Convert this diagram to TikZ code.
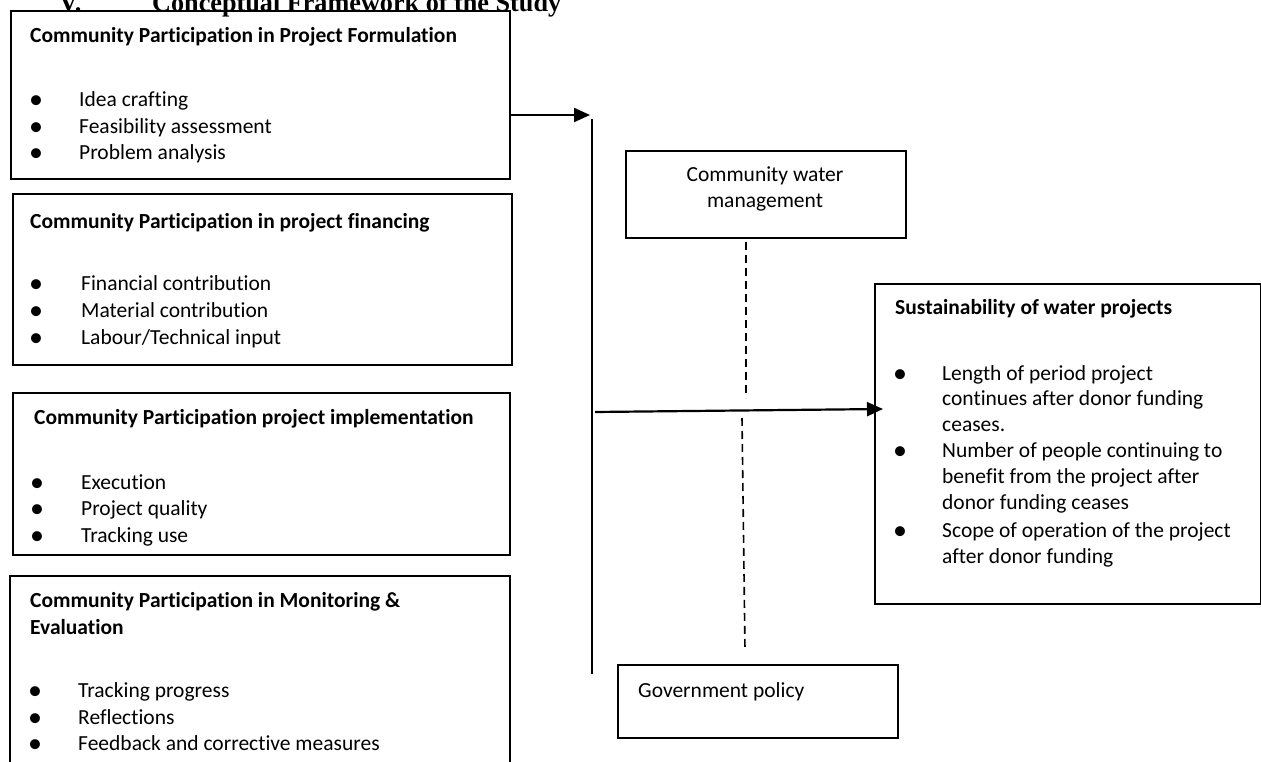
\documentclass[tikz,border=0pt]{standalone}
\usepackage{fontspec}
\setmainfont{Carlito}[Ligatures=NoCommon]
\newfontfamily\headfont{Liberation Serif}
\usetikzlibrary{arrows.meta}
\tikzset{
  box/.style={draw, line width=2pt, inner sep=0pt, anchor=north west},
  ttl/.style={anchor=base west, inner sep=0pt, font=\bfseries\fontsize{21.5}{26}\selectfont},
  itm/.style={anchor=base west, inner sep=0pt, font=\fontsize{21.5}{26}\selectfont},
  ctr/.style={anchor=base, inner sep=0pt, font=\fontsize{21.5}{26}\selectfont},
  bul/.style={anchor=base, inner sep=0pt, yshift=-2pt, font=\fontsize{28}{28}\selectfont},
  hd/.style={anchor=base west, inner sep=0pt, font=\headfont\bfseries\fontsize{26.2}{30}\selectfont},
  conn/.style={line width=2pt},
  arr/.style={line width=2.2pt, -{Triangle[length=16pt,width=14pt]}},
  dsh/.style={line width=1.6pt, dash pattern=on 8pt off 5pt},
}
\begin{document}
\begin{tikzpicture}[x=1pt,y=-1pt]
\useasboundingbox (0,0) rectangle (1261,762);
\clip (0,0) rectangle (1261,762);

% heading (cut off at the top)
\node[hd] (hv) at (59,12) {V.};
\node[hd] (hc) at (152,12) {Conceptual Framework of the Study};

% left boxes
\node[box, minimum width=499pt, minimum height=168pt] (b1) at (10,10) {};
\node[ttl] (t1) at (30,43) {Community Participation in Project Formulation};
\node[bul] (b1d1) at (36,107) {•};
\node[itm] (b1i1) at (79,107) {Idea crafting};
\node[bul] (b1d2) at (36,134) {•};
\node[itm] (b1i2) at (79,134) {Feasibility assessment};
\node[bul] (b1d3) at (36,160) {•};
\node[itm] (b1i3) at (79,160) {Problem analysis};

\node[box, minimum width=499pt, minimum height=171pt] (b2) at (12,193) {};
\node[ttl] (t2) at (30,229) {Community Participation in project financing};
\node[bul] (b2d1) at (36,290) {•};
\node[itm] (b2i1) at (81,290) {Financial contribution};
\node[bul] (b2d2) at (36,317) {•};
\node[itm] (b2i2) at (81,317) {Material contribution};
\node[bul] (b2d3) at (36,344) {•};
\node[itm] (b2i3) at (81,344) {Labour/Technical input};

\node[box, minimum width=497pt, minimum height=162pt] (b3) at (12,392) {};
\node[ttl] (t3) at (34,424) {Community Participation project implementation};
\node[bul] (b3d1) at (37,489) {•};
\node[itm] (b3i1) at (81,489) {Execution};
\node[bul] (b3d2) at (37,515) {•};
\node[itm] (b3i2) at (81,515) {Project quality};
\node[bul] (b3d3) at (37,542) {•};
\node[itm] (b3i3) at (81,542) {Tracking use};

\node[box, minimum width=500pt, minimum height=200pt] (b4) at (9,575) {};
\node[ttl] (t4a) at (30,607) {Community Participation in Monitoring \&};
\node[ttl] (t4b) at (30,634) {Evaluation};
\node[bul] (b4d1) at (35,697) {•};
\node[itm] (b4i1) at (78,697) {Tracking progress};
\node[bul] (b4d2) at (35,724) {•};
\node[itm] (b4i2) at (78,724) {Reflections};
\node[bul] (b4d3) at (35,750) {•};
\node[itm] (b4i3) at (78,750) {Feedback and corrective measures};

% middle boxes
\node[box, minimum width=280pt, minimum height=87pt] (cw) at (625,150) {};
\node[ctr] (cw1) at (765,182) {Community water};
\node[ctr] (cw2) at (765,208) {management};

\node[box, minimum width=280pt, minimum height=73pt] (gov) at (617,664) {};
\node[itm] (gov1) at (638,697) {Government policy};

% right box
\node[box, minimum width=386pt, minimum height=320pt] (sus) at (874,283) {};
\node[ttl] (st) at (895,314) {Sustainability of water projects};
\node[bul] (sd1) at (900,380) {•};
\node[itm] (s1) at (942,380) {Length of period project};
\node[itm] (s2) at (942,405) {continues after donor funding};
\node[itm] (s3) at (942,431) {ceases.};
\node[bul] (sd2) at (900,457) {•};
\node[itm] (s4) at (942,457) {Number of people continuing to};
\node[itm] (s5) at (942,483) {benefit from the project after};
\node[itm] (s6) at (942,509) {donor funding ceases};
\node[bul] (sd3) at (900,537) {•};
\node[itm] (s7) at (942,537) {Scope of operation of the project};
\node[itm] (s8) at (942,563) {after donor funding};

% connectors
\coordinate (a1) at (590,115);
\coordinate (vtop) at (592,119);
\coordinate (vbot) at (592,674);
\coordinate (m0) at (595,412);
\coordinate (m1) at (883,409);
\coordinate (d0) at (746,242);
\coordinate (d1) at (746,398);
\coordinate (d2) at (742,418);
\coordinate (d3) at (745,650);

\draw[arr] (b1.east |- a1) -- (a1);
\draw[conn] (vtop) -- (vbot);
\draw[arr] (m0) -- (m1);
\draw[dsh] (d0) -- (d1);
\draw[dsh] (d2) -- (d3);
\end{tikzpicture}
\end{document}
